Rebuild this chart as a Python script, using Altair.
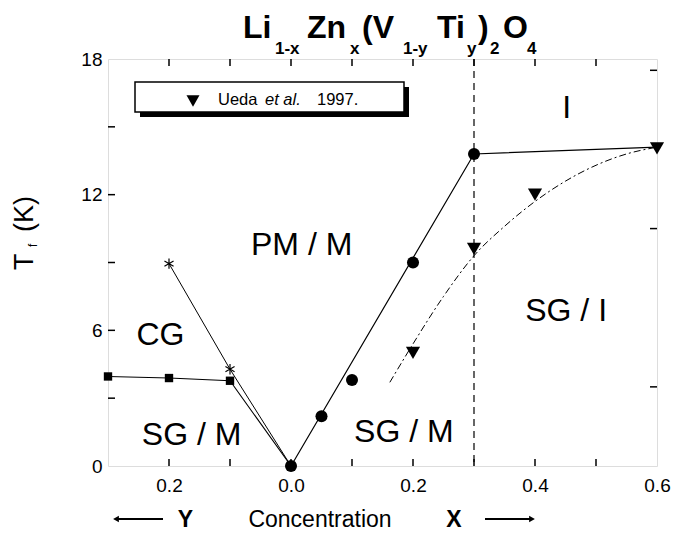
import altair as alt
import pandas as pd

# ---------------- data ----------------
# X side (Li1-xZnxV2O4): filled circles
x_circ = [0.0, 0.05, 0.1, 0.2, 0.3]
t_circ = [0.0, 2.2, 3.8, 9.0, 13.8]
# solid guide line through the X-side boundary
x_fit = [0.0, 0.3, 0.6]
t_fit = [0.0, 13.8, 14.1]
# Y side (Li(V1-yTiy)2O4): squares and asterisks (Y drawn to the left)
y_sq = [0.3, 0.2, 0.1, 0.0]
t_sq = [3.96, 3.89, 3.77, 0.0]
y_star = [0.2, 0.1, 0.0]
t_star = [8.95, 4.28, 0.0]
# Ueda et al. 1997 (triangles) and dash-dot guide
x_ueda = [0.2, 0.3, 0.4, 0.6]
t_ueda = [5.0, 9.6, 12.0, 14.05]
x_curve = [0.162, 0.2, 0.25, 0.3, 0.35, 0.4, 0.45, 0.5, 0.55, 0.6]
t_curve = [3.7, 5.4, 7.5, 9.3, 10.6, 11.7, 12.6, 13.3, 13.8, 14.1]
x_boundary = [0.3]
# axes
x_label_vals = [-0.2, 0.0, 0.2, 0.4, 0.6]
x_tick_vals = [-0.2, -0.1, 0.0, 0.1, 0.2, 0.3, 0.4, 0.5]
y_label_vals = [0, 6, 12, 18]
y_tick_vals = [3, 6, 9, 12, 15]
y_right_tick_vals = [3.5, 10.5, 17.5]

FONT = "Liberation Sans"
W, H = 549, 407

circ = pd.DataFrame({"pos": x_circ, "t": t_circ})
fit = pd.DataFrame({"pos": x_fit, "t": t_fit})
sq = pd.DataFrame({"pos": [-v for v in y_sq], "t": t_sq})
star = pd.DataFrame({"pos": [-v for v in y_star], "t": t_star})
ueda = pd.DataFrame({"pos": x_ueda, "t": t_ueda})
curve = pd.DataFrame({"pos": x_curve, "t": t_curve})
bnd = pd.DataFrame({"pos": x_boundary})
xt = pd.DataFrame({"pos": x_tick_vals})
yt = pd.DataFrame({"t": y_tick_vals})
yrt = pd.DataFrame({"t": y_right_tick_vals})
one = pd.DataFrame({"k": [0]})

xs = alt.Scale(domain=[-0.3, 0.6], nice=False, zero=False)
ys = alt.Scale(domain=[0, 18], nice=False)

x_axis = alt.Axis(values=x_label_vals, labelExpr="format(abs(datum.value), '.1f')",
                  ticks=False, domain=False, grid=False, labelFontSize=19, labelFont=FONT,
                  labelColor="black", labelPadding=10, labelFlush=False, title=None)
y_axis = alt.Axis(values=y_label_vals, ticks=False, domain=False, grid=False,
                  labelFontSize=19, labelFont=FONT, labelColor="black", labelPadding=6,
                  labelFlush=False, title=None)


def X():
    return alt.X("pos:Q", scale=xs, axis=x_axis)


def Y():
    return alt.Y("t:Q", scale=ys, axis=y_axis)


layers = []

# solid lines
layers.append(alt.Chart(fit).mark_line(color="black", strokeWidth=1.2).encode(x=X(), y=Y()))
layers.append(alt.Chart(sq).mark_line(color="black", strokeWidth=1.1).encode(x=X(), y=Y()))
layers.append(alt.Chart(star).mark_line(color="black", strokeWidth=1.0).encode(x=X(), y=Y()))
# dash-dot curve
layers.append(alt.Chart(curve).mark_line(color="black", strokeWidth=1.0, strokeDash=[7, 3, 2, 3],
                                          interpolate="monotone").encode(x=X(), y=Y()))
# dashed boundary
layers.append(alt.Chart(bnd).mark_rule(color="black", strokeWidth=1.2, strokeDash=[7, 5]).encode(
    x=X(), y=alt.value(0), y2=alt.value(H)))

# markers
layers.append(alt.Chart(circ).mark_point(shape="circle", filled=True, size=145, color="black", opacity=1).encode(x=X(), y=Y()))
layers.append(alt.Chart(sq).mark_point(shape="square", filled=True, size=70, color="black", opacity=1).encode(x=X(), y=Y()))
layers.append(alt.Chart(star).mark_point(shape="M0,-1L0,1M-0.87,-0.5L0.87,0.5M-0.87,0.5L0.87,-0.5",
                                         filled=False, size=110, color="black", strokeWidth=1.2, opacity=1).encode(x=X(), y=Y()))
layers.append(alt.Chart(ueda).mark_point(shape="triangle-down", filled=True, size=200, color="black", opacity=1).encode(x=X(), y=Y()))

# inward ticks
layers.append(alt.Chart(xt).mark_rule(color="black", strokeWidth=1.5).encode(x=X(), y=alt.value(H), y2=alt.value(H - 7)))
layers.append(alt.Chart(xt).mark_rule(color="black", strokeWidth=1.5).encode(x=X(), y=alt.value(0), y2=alt.value(7)))
layers.append(alt.Chart(yt).mark_rule(color="black", strokeWidth=1.5).encode(y=Y(), x=alt.value(0), x2=alt.value(7)))
layers.append(alt.Chart(yrt).mark_rule(color="black", strokeWidth=1.5).encode(y=Y(), x=alt.value(W), x2=alt.value(W - 7)))


def region(text, xv, tv, size=32):
    return alt.Chart(one).mark_text(text=text, font=FONT, fontSize=size, align="center",
                                    baseline="alphabetic", color="black").encode(
        x=alt.X(datum=xv, type="quantitative", scale=xs, axis=x_axis),
        y=alt.Y(datum=tv, type="quantitative", scale=ys, axis=y_axis))


layers += [
    region("PM / M", 0.0175, 9.35),
    region("CG", -0.214, 5.36),
    region("SG / M", -0.163, 0.93),
    region("SG / M", 0.185, 1.08),
    region("SG / I", 0.451, 6.4),
    region("I", 0.452, 15.37),
]


def ptext(text, x, y, size, weight="normal", style="normal", align="left", angle=0, baseline="alphabetic"):
    kw = dict(text=text, font=FONT, fontSize=size, fontWeight=weight, fontStyle=style,
              align=align, baseline=baseline, color="black")
    if angle:
        kw["angle"] = angle
    return alt.Chart(one).mark_text(**kw).encode(x=alt.value(x), y=alt.value(y))


# legend box with shadow
layers.append(alt.Chart(one).mark_rect(color="black").encode(
    x=alt.value(32), x2=alt.value(301), y=alt.value(28), y2=alt.value(58)))
layers.append(alt.Chart(one).mark_rect(fill="white", stroke="black", strokeWidth=1.5).encode(
    x=alt.value(27), x2=alt.value(296), y=alt.value(23), y2=alt.value(53)))
layers.append(alt.Chart(one).mark_point(shape="triangle-down", filled=True, size=170, color="black", opacity=1).encode(
    x=alt.value(85), y=alt.value(42)))
layers += [
    ptext("Ueda", 110, 46, 16.5),
    ptext("et al.", 157, 46, 16.5, style="italic"),
    ptext("1997.", 209, 46, 16.5),
]

# title with subscripts
TB, TS = -21, -5
layers += [
    ptext("Li", 135, TB, 32, weight="bold"),
    ptext("1-x", 167, TS, 17, weight="bold"),
    ptext("Zn", 199, TB, 32, weight="bold"),
    ptext("x", 242, TS, 17, weight="bold"),
    ptext("(V", 254, TB, 32, weight="bold"),
    ptext("1-y", 295, TS, 17, weight="bold"),
    ptext("Ti", 329, TB, 32, weight="bold"),
    ptext("y", 359, TS, 17, weight="bold"),
    ptext(")", 370, TB, 32, weight="bold"),
    ptext("2", 382, TS, 17, weight="bold"),
    ptext("O", 395, TB, 32, weight="bold"),
    ptext("4", 419, TS, 17, weight="bold"),
]

# y-axis title T_f (K)
layers += [
    ptext("T", -75, 211, 27, angle=270),
    ptext("f", -71, 188, 12, angle=270),
    ptext("(K)", -75, 173, 27, angle=270),
]

# bottom caption with arrows
AY = 460
layers += [
    alt.Chart(one).mark_rule(color="black", strokeWidth=2).encode(x=alt.value(8), x2=alt.value(55), y=alt.value(AY)),
    alt.Chart(one).mark_point(shape="triangle-left", filled=True, size=45, color="black", opacity=1).encode(
        x=alt.value(8), y=alt.value(AY)),
    alt.Chart(one).mark_rule(color="black", strokeWidth=2).encode(x=alt.value(377), x2=alt.value(424), y=alt.value(AY)),
    alt.Chart(one).mark_point(shape="triangle-right", filled=True, size=45, color="black", opacity=1).encode(
        x=alt.value(424), y=alt.value(AY)),
    ptext("Y", 77.5, 468, 23, weight="bold", align="center"),
    ptext("Concentration", 212, 468, 23, align="center"),
    ptext("X", 346, 468, 23, weight="bold", align="center"),
]

chart = alt.layer(*layers).properties(
    width=W, height=H, autosize="none",
    padding={"left": 108, "top": 59, "right": 17, "bottom": 73},
).configure_view(stroke="black", strokeWidth=2).configure(background="white")

chart.save("out.html", embed_options={"renderer": "svg", "actions": False})
